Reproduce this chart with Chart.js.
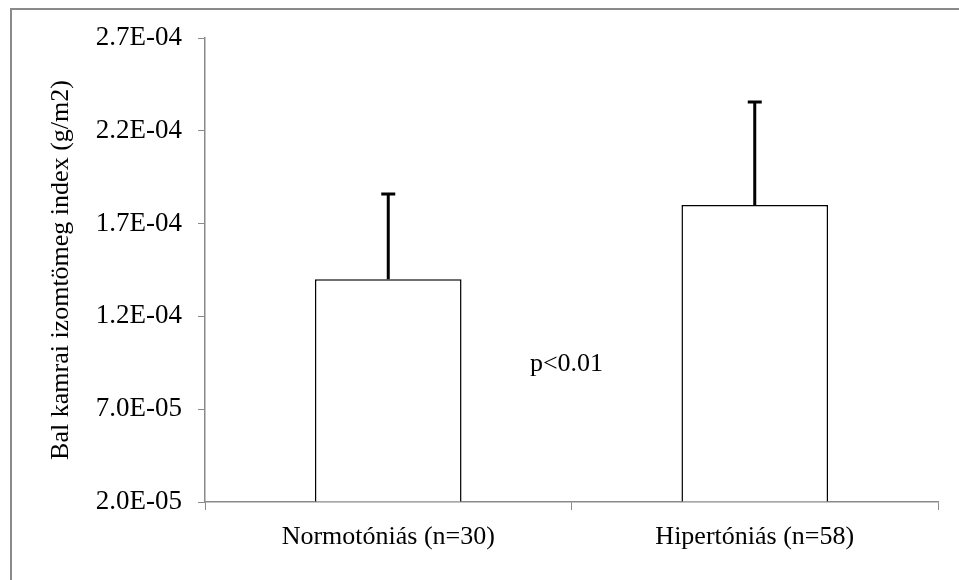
<!DOCTYPE html>
<html>
<head>
<meta charset="utf-8">
<title>Bal kamrai izomtömeg index</title>
<script src="https://cdn.jsdelivr.net/npm/chart.js@4/dist/chart.umd.min.js"></script>
<style>
    html, body { margin: 0; padding: 0; background: #fff; }
    #wrap { width: 959px; height: 580px; }
</style>
</head>
<body>
<div id="wrap"><canvas id="lvmi_chart" width="959" height="580"></canvas></div>
<script>
// data
var groups = ['Normotóniás (n=30)', 'Hipertóniás (n=58)'];
var means = [1.40e-4, 1.80e-4];
var errors = [4.6e-5, 5.55e-5];
var yMin = 2.0e-5;
var yMax = 2.7e-4;
var yStep = 5.0e-5;
var yTitle = 'Bal kamrai izomtömeg index (g/m2)';
var note = 'p<0.01';

var serif = '"Liberation Serif", "Times New Roman", serif';
var axisGray = '#8a8a8a';

// 2.0E-05 style labels like excel does
function sci(v) {
    var s = Number(v).toExponential(1).split('e');
    var exp = parseInt(s[1], 10);
    var sign = exp < 0 ? '-' : '+';
    exp = Math.abs(exp);
    return s[0] + 'E' + sign + (exp < 10 ? '0' + exp : exp);
}

var frame = {
    id: 'frame',
    beforeDraw: function (chart) {
        var c = chart.ctx;
        c.save();
        c.fillStyle = '#fff';
        c.fillRect(0, 0, chart.width, chart.height);
        c.strokeStyle = axisGray;
        c.lineWidth = 2;
        c.strokeRect(11, 9, chart.width + 50, chart.height + 50);
        c.restore();
    }
};

var errorBars = {
    id: 'errorBars',
    afterDatasetsDraw: function (chart) {
        var c = chart.ctx;
        var y = chart.scales.y;
        var meta = chart.getDatasetMeta(0);
        c.save();
        c.strokeStyle = '#000';
        c.lineWidth = 3;
        for (var i = 0; i < meta.data.length; i++) {
            var bar = meta.data[i];
            var top = y.getPixelForValue(means[i] + errors[i]);
            c.beginPath();
            c.moveTo(bar.x, bar.y);
            c.lineTo(bar.x, top);
            c.moveTo(bar.x - 7, top);
            c.lineTo(bar.x + 7, top);
            c.stroke();
        }
        c.restore();
    }
};

var pNote = {
    id: 'pNote',
    afterDraw: function (chart) {
        var c = chart.ctx;
        var x = chart.scales.x.getPixelForValue(0.5);
        var y = chart.scales.y.getPixelForValue(9.4e-5);
        c.save();
        c.fillStyle = '#000';
        c.font = '26px ' + serif;
        c.textAlign = 'center';
        c.textBaseline = 'middle';
        c.fillText(note, x - 5, y);
        c.restore();
    }
};

new Chart(document.getElementById('lvmi_chart'), {
    type: 'bar',
    data: {
        labels: groups,
        datasets: [
            {
                label: 'LVMI',
                data: means,
                base: yMin,
                backgroundColor: '#fff',
                borderColor: '#000',
                borderWidth: 1.5,
                barPercentage: 0.4,
                categoryPercentage: 1
            }
        ]
    },
    options: {
        responsive: false,
        animation: false,
        devicePixelRatio: 1,
        layout: {
            padding: { left: 36, right: 21, top: 38, bottom: 0 }
        },
        plugins: {
            legend: { display: false },
            tooltip: { enabled: false }
        },
        scales: {
            x: {
                offset: true,
                grid: {
                    offset: true,
                    drawOnChartArea: false,
                    drawTicks: true,
                    tickLength: 8,
                    color: axisGray
                },
                border: { color: axisGray, width: 1.5 },
                ticks: {
                    color: '#000',
                    font: { family: serif, size: 26 },
                    padding: 12,
                    maxRotation: 0
                },
                afterFit: function (s) { s.height = 78; }
            },
            y: {
                min: yMin,
                max: yMax,
                grid: {
                    drawOnChartArea: false,
                    drawTicks: true,
                    tickLength: 7,
                    color: axisGray
                },
                border: { color: axisGray, width: 1.5 },
                ticks: {
                    stepSize: yStep,
                    color: '#000',
                    font: { family: serif, size: 27 },
                    padding: 16,
                    callback: function (v) { return sci(v); }
                },
                title: {
                    display: true,
                    text: yTitle,
                    color: '#000',
                    font: { family: serif, size: 26 },
                    padding: { top: 10, bottom: 0 }
                },
                afterFit: function (s) { s.width = 169; }
            }
        }
    },
    plugins: [frame, errorBars, pNote]
});
</script>
</body>
</html>
